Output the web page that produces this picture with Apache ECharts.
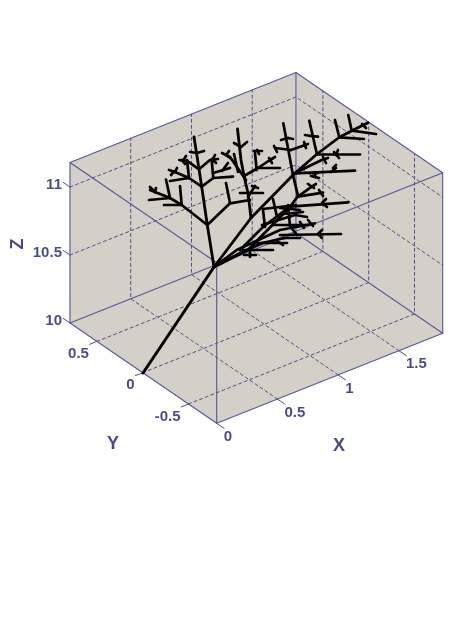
<!DOCTYPE html>
<html><head><meta charset="utf-8">
<style>html,body{margin:0;padding:0;background:#fff}#c{width:474px;height:632px}</style>
<script src="https://cdn.jsdelivr.net/npm/echarts@6/dist/echarts.min.js"></script>
</head><body><div id="c"></div>
<script>
// Axis values of the 3D box
const xRange = [0, 1.86];
const yRange = [-0.808, 0.794];
const zRange = [10, 11.18];
const xTicks = [0, 0.5, 1, 1.5];
const yTicks = [-0.5, 0, 0.5];
const zTicks = [10, 10.5, 11];
const xTickLabels = ['0', '0.5', '1', '1.5'];
const yTickLabels = ['-0.5', '0', '0.5'];
const zTickLabels = ['10', '10.5', '11'];

// Tree branches in the viewing plane
const trunk = [[143,373],[214,267]];
const stemLeft = [[214,267],[207.3,225],[201.7,186.7],[199,169],[194,137]];
const stemLeftBranches = [
  [[207.3,225],[181.7,205],[170,198],[150,190]],
  [[181.7,205],[180,186]],[[181.7,205],[164,205]],
  [[170,198],[166,179.5]],[[170,198],[149,200]],
  [[155,192.5],[156,188]],[[154,191],[150,187]],
  [[201.7,186.7],[189,178],[175,172],[169,170]],
  [[189,178],[187,160]],[[189,178],[170,181]],[[175,172],[177,168]],[[174,171.5],[171,175]],
  [[199,169.3],[188.3,161.7],[179.3,160]],[[182,160],[185,164]],[[183,161],[186,156]],
  [[199,169.3],[210,160],[218,159]],[[212,159],[216,163]],[[213,159],[215,155]],
  [[197,153],[190,152]],[[197,153],[204,151]],
  [[207.3,225],[230,203.3],[250,200]],
  [[230,203],[226,183]],
  [[201.7,186.7],[213.3,178],[211.7,160]],
  [[213.3,178],[233,176.7]],[[213,173],[230,168]],[[222,171],[228,163]]
];
const stemMiddle = [[251,218],[248,193],[244,176],[241,160],[237.5,129]];
const stemMiddleBranches = [
  [[246,180],[230,157],[222,153]],[[227,154],[229,151]],[[226,155],[230,158]],
  [[238,172],[234,154]],
  [[244,176],[258,168],[270,160],[275,157]],[[269,158],[272,163]],
  [[258,168],[280,168]],
  [[256.7,170],[255,153]],[[254,151],[262,151]],[[257,150],[259,154]],
  [[240,193],[263,193]],[[248,197],[255,186]],[[252,186],[258,188]],
  [[241,147],[234,143]],[[241,147],[247,142]]
];
const mainBranch = [[214,267],[251,218],[293,175],[317,154],[339,137.5],[351.7,130.7],[368,122.7]];
const mainBranchTwigs = [
  [[351.7,130.7],[348.3,115]],[[351.7,130.7],[376,134]],[[362,124],[366,128]],
  [[339.3,137.3],[335,120]],[[339.3,137.3],[364,139]],
  [[317,154.5],[309.3,120.7]],[[317,154.5],[360,154.5]],
  [[311,136],[305,135]],[[311,136],[318,136.7]],
  [[338,150],[336,155]],[[334,152],[339,158]],
  [[293,175],[283.3,123.3]],
  [[291,150],[275,148]],[[291,150],[308,144]],[[274,146],[277,152]],[[304,142],[306,148]],
  [[288,138],[281,140]],[[288,138],[293,139]],
  [[295,173],[321.7,160],[328,158]],[[323,157],[326,163]],
  [[295,173.3],[355,170.7]],
  [[333,168],[336,165]],[[331,172],[336,168]],[[313,173.3],[318,173]],[[315,177],[315,172]],[[311,176],[319,178]]
];
const lowerStem = [[214,267],[248,250],[290,207],[298,196],[293,175]];
const lowerBranches = [
  [[298,196.7],[310.7,187.3],[316,184]],[[308,184],[314,188]],
  [[298,196.7],[323,192.7]],[[319,190],[323,196]],
  [[290,206.7],[348.3,202.3]],
  [[326,199],[322,203],[327,207]],
  [[214,267],[236.7,250],[280,230],[315,223.3]],[[308,220],[313,226]],
  [[240,250],[263,227],[288,208]],
  [[280,235],[341,234]],[[322,230],[318,234],[322,238]],
  [[273,225],[306,225]],[[300,222],[304,228]],
  [[262,225],[295,215],[307,217]],
  [[273,199],[277,217]],[[263,210],[265,227]],
  [[263,209],[296,205]],
  [[280,208],[300,210]],[[288,205],[290,226],[297,235]],[[283,214],[303,212]],
  [[243,250],[273,250]],[[257,243],[287,243]],[[277,241],[283,245]],
  [[250,250],[250,257]],[[244,255],[256,255]],
  [[283,238],[300,238]],
  [[214,267],[240,253],[262,243],[285,238]]
];

// Viewing projection of the box
const origin = [142.7, 372.7], ex = [121.5, -48.4], ey = [-91.6, -62.6], ez = [0, -136];
function proj(x, y, z) {
  const d = z - 10;
  return [origin[0] + x*ex[0] + y*ey[0] + d*ez[0], origin[1] + x*ex[1] + y*ey[1] + d*ez[1]];
}
const [x0, x1] = xRange, [y0, y1] = yRange, [z0, z1] = zRange;

const INK = '#1c1c66', EDGE = '#56569a', GRID = '#4f4f88';
const series = [];

// grey backdrop
const hull = [proj(x0,y1,z0), proj(x0,y1,z1), proj(x1,y1,z1), proj(x1,y0,z1), proj(x1,y0,z0), proj(x0,y0,z0)];
series.push({
  type: 'custom', coordinateSystem: 'cartesian2d', silent: true, z: 1, clip: false,
  encode: {x: 0, y: 1}, data: hull,
  renderItem: function (params, api) {
    if (params.dataIndex !== 0) return null;
    return {type: 'polygon', shape: {points: hull.map(p => api.coord(p))}, style: {fill: '#d4d0c8'}};
  }
});

function addLine(points, color, width, dash, z) {
  series.push({
    type: 'line', data: points, symbol: 'none', silent: true, z: z, clip: false, animation: false,
    lineStyle: {color: color, width: width, type: dash || 'solid', cap: 'round', join: 'round'}
  });
}
const dashed = [3, 3];
// floor and wall grid
xTicks.filter(v => v > 0).forEach(v => {
  addLine([proj(v,y0,z0), proj(v,y1,z0), proj(v,y1,z1)], GRID, 1, dashed, 2);
});
yTicks.forEach(v => {
  addLine([proj(x0,v,z0), proj(x1,v,z0), proj(x1,v,z1)], GRID, 1, dashed, 2);
});
zTicks.filter(v => v > 10).forEach(v => {
  addLine([proj(x0,y1,v), proj(x1,y1,v), proj(x1,y0,v)], GRID, 1, dashed, 2);
});
// ticks
xTicks.forEach(v => addLine([proj(v,y0,z0), proj(v,y0-0.08,z0)], GRID, 1, null, 3));
yTicks.forEach(v => addLine([proj(x0,v,z0), proj(x0-0.06,v,z0)], GRID, 1, null, 3));
zTicks.forEach(v => addLine([proj(x0,y1,v), proj(x0,y1+0.075,v)], GRID, 1, null, 3));
// box edges
[
  [[x0,y1,z0],[x0,y1,z1],[x1,y1,z1],[x1,y0,z1],[x1,y0,z0],[x0,y0,z0],[x0,y1,z0]],
  [[x0,y1,z0],[x1,y1,z0],[x1,y0,z0]],
  [[x1,y1,z0],[x1,y1,z1]],
  [[x0,y1,z1],[x0,y0,z1],[x1,y0,z1]],
  [[x0,y0,z0],[x0,y0,z1]]
].forEach(path => addLine(path.map(p => proj(p[0],p[1],p[2])), EDGE, 1.1, null, 4));

// tree
addLine(trunk, '#000', 3, null, 10);
[stemLeft, stemMiddle, mainBranch, lowerStem].forEach(b => addLine(b, '#000', 2.8, null, 10));
[stemLeftBranches, stemMiddleBranches, mainBranchTwigs, lowerBranches].forEach(group =>
  group.forEach(b => addLine(b, '#000', 2.7, null, 10)));

// text
function label(pos, text, align, size, rotate) {
  return {
    value: pos,
    label: {show: true, position: 'inside', formatter: text, align: align, verticalAlign: 'middle',
      color: INK, fontSize: size, fontFamily: 'Liberation Sans', fontWeight: 'bold', rotate: rotate || 0}
  };
}
const texts = [];
xTicks.forEach((v, i) => { const p = proj(v,y0,z0); texts.push(label([p[0]+7, p[1]+13.5], xTickLabels[i], 'left', 15)); });
yTicks.forEach((v, i) => { const p = proj(x0,v,z0); texts.push(label([p[0]-8, p[1]+12.5], yTickLabels[i], 'right', 15)); });
zTicks.forEach((v, i) => { const p = proj(x0,y1,v); texts.push(label([p[0]-8, p[1]-2.5], zTickLabels[i], 'right', 15)); });
texts.push(label([339,446], 'X', 'center', 18));
texts.push(label([113,444], 'Y', 'center', 18));
texts.push(label([18,244], 'Z', 'center', 18, 90));
series.push({type: 'scatter', data: texts, symbolSize: 0, silent: true, z: 20, clip: false, animation: false});

const chart = echarts.init(document.getElementById('c'), null, {renderer: 'canvas'});
chart.setOption({
  animation: false,
  backgroundColor: '#ffffff',
  grid: {left: 0, right: 0, top: 0, bottom: 0},
  xAxis: {type: 'value', min: 0, max: 474, show: false},
  yAxis: {type: 'value', min: 0, max: 632, inverse: true, show: false},
  series: series
});
</script></body></html>
